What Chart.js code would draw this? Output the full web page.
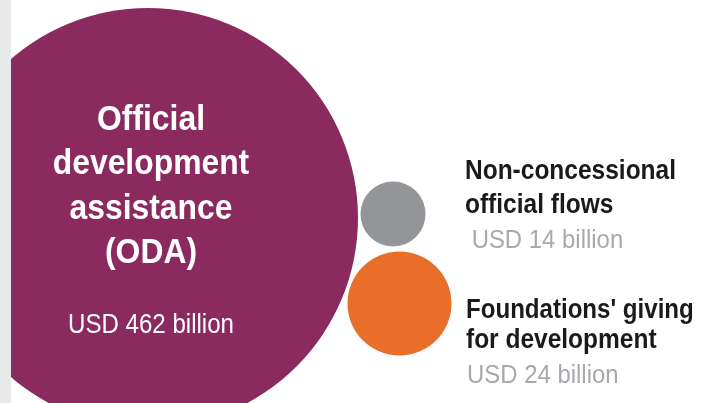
<!DOCTYPE html>
<html>
<head>
<meta charset="utf-8">
<script src="https://cdn.jsdelivr.net/npm/chart.js@4"></script>
<style>
  html, body { margin: 0; padding: 0; background: #ffffff; }
  #chart { display: block; }
</style>
</head>
<body>
<canvas id="chart" width="711" height="403"></canvas>
<script>
// Data
const categories = [
  "Official development assistance (ODA)",
  "Non-concessional official flows",
  "Foundations' giving for development",
];
const valuesBn = [462, 14, 24];

// Layout (pixels on a 711x403 canvas)
const bubbleCentres = [[148, 218], [393, 214], [399.5, 303.5]];
const bubbleRadius = [210, 32.5, 52];
const bubbleColors = ["#8b2a5f", "#939598", "#e76f2a"];

function usd(v) {
  return "USD " + v + " billion";
}

// Text drawn next to / inside the bubbles
const labelPlugin = {
  id: "labels",
  beforeDraw: function (chart) {
    const ctx = chart.ctx;
    ctx.save();
    ctx.fillStyle = "#ffffff";
    ctx.fillRect(0, 0, chart.width, chart.height);
    ctx.restore();
  },
  afterDraw: function (chart) {
    const ctx = chart.ctx;

    // grey strip on the left edge
    ctx.save();
    ctx.fillStyle = "#e8eae9";
    ctx.fillRect(0, 0, 11, chart.height);
    ctx.restore();

    function text(str, x, y, font, color, sx, align) {
      ctx.save();
      ctx.font = font;
      ctx.fillStyle = color;
      ctx.textAlign = align || "left";
      ctx.textBaseline = "alphabetic";
      ctx.translate(x, y);
      ctx.scale(sx, 1);
      ctx.fillText(str, 0, 0);
      ctx.restore();
    }

    const big = chart.getDatasetMeta(0).data[0];
    const bigFont = "bold 35px 'Liberation Sans', Arial, sans-serif";
    ["Official", "development", "assistance", "(ODA)"].forEach(function (line, i) {
      text(line, big.x + 3, 130 + i * 44.4, bigFont, "#ffffff", 0.91, "center");
    });
    text(usd(valuesBn[0]), big.x + 3, 333, "28px 'Liberation Sans', Arial, sans-serif", "#ffffff", 0.86, "center");

    const titleFont = "bold 28px 'Liberation Sans', Arial, sans-serif";
    const valueFont = "26px 'Liberation Sans', Arial, sans-serif";
    text("Non-concessional", 465, 179, titleFont, "#1a1a1a", 0.875);
    text("official flows", 465, 213, titleFont, "#1a1a1a", 0.875);
    text(" " + usd(valuesBn[1]), 465, 248, valueFont, "#a7a9ac", 0.92);

    text("Foundations' giving", 466, 318, titleFont, "#1a1a1a", 0.86);
    text("for development", 466, 348, titleFont, "#1a1a1a", 0.875);
    text(usd(valuesBn[2]), 467, 383, valueFont, "#a7a9ac", 0.92);
  },
};

new Chart(document.getElementById("chart"), {
  type: "bubble",
  data: {
    labels: categories,
    datasets: [
      {
        label: "Development finance",
        data: valuesBn.map(function (v, i) {
          return {
            x: bubbleCentres[i][0],
            y: bubbleCentres[i][1],
            r: bubbleRadius[i],
            value: v,
          };
        }),
        backgroundColor: bubbleColors,
        hoverBackgroundColor: bubbleColors,
        borderWidth: 0,
        hoverBorderWidth: 0,
        hoverRadius: 0,
        clip: false,
      },
    ],
  },
  options: {
    responsive: false,
    animation: false,
    events: [],
    layout: { padding: 0, autoPadding: false },
    plugins: {
      legend: { display: false },
      tooltip: { enabled: false },
    },
    scales: {
      x: { type: "linear", min: 0, max: 711, display: false },
      y: { type: "linear", min: 0, max: 403, reverse: true, display: false },
    },
  },
  plugins: [labelPlugin],
});
</script>
</body>
</html>
